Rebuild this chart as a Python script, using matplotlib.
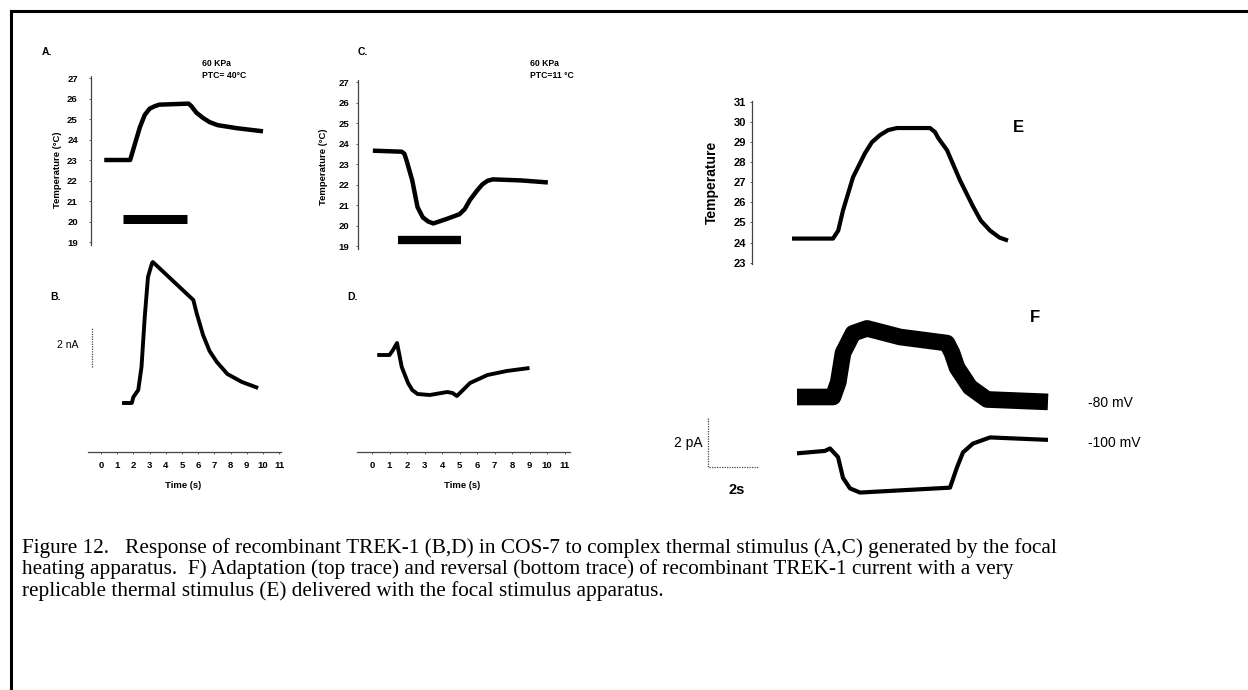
import matplotlib
matplotlib.use("Agg")
import matplotlib.pyplot as plt

W, H = 1248, 690
fig = plt.figure(figsize=(W / 100, H / 100), dpi=100)
fig.patch.set_facecolor("white")

SANS = ["Liberation Sans", "DejaVu Sans"]
SERIF = ["Liberation Serif", "DejaVu Serif"]

# ---------------- data ----------------
a_time = [0.2, 1.8, 2.1, 2.4, 2.7, 3.0, 3.3, 3.6, 5.4, 5.55, 5.9, 6.3, 6.7, 7.2, 8.4, 10.0]
a_temp = [23.0, 23.0, 23.8, 24.6, 25.2, 25.5, 25.62, 25.7, 25.75, 25.65, 25.3, 25.05, 24.85, 24.7, 24.55, 24.4]
a_stim = [1.35, 5.3]
a_stim_level = 20.1

b_time = [1.3, 1.9, 2.0, 2.3, 2.5, 2.7, 2.9, 3.15, 3.2, 5.7, 5.9, 6.3, 6.7, 7.15, 7.8, 8.7, 9.7]
b_curr = [0.0, 0.0, 0.3, 0.65, 1.8, 4.3, 6.3, 7.0, 7.05, 5.15, 4.5, 3.4, 2.6, 2.05, 1.45, 1.05, 0.75]

c_time = [0.05, 1.7, 1.85, 2.0, 2.3, 2.6, 2.9, 3.2, 3.5, 4.2, 5.0, 5.3, 5.6, 6.0, 6.3, 6.6, 6.9, 8.5, 10.05]
c_temp = [23.65, 23.6, 23.5, 23.1, 22.2, 20.9, 20.4, 20.2, 20.1, 20.3, 20.55, 20.8, 21.25, 21.7, 22.0, 22.18, 22.25, 22.2, 22.1]
c_stim = [1.5, 5.1]
c_stim_level = 19.3

d_time = [0.3, 1.0, 1.2, 1.43, 1.7, 2.06, 2.3, 2.6, 3.3, 4.3, 4.6, 4.85, 5.2, 5.6, 6.6, 7.7, 9.0]
d_curr = [0.0, 0.0, 0.25, 0.6, -0.6, -1.4, -1.75, -1.95, -2.0, -1.85, -1.9, -2.05, -1.75, -1.4, -1.0, -0.8, -0.65]

e_time = [0, 1.64, 1.85, 2.04, 2.44, 2.92, 3.2, 3.52, 3.85, 4.2, 5.52, 5.72, 5.85, 6.2, 6.72, 7.24, 7.55, 7.92, 8.3, 8.64]
e_temp = [24.2, 24.2, 24.6, 25.6, 27.25, 28.45, 29.0, 29.35, 29.6, 29.7, 29.7, 29.5, 29.2, 28.6, 27.1, 25.8, 25.1, 24.6, 24.25, 24.1]

f80_time = [0.2, 1.64, 1.85, 2.04, 2.44, 3.0, 4.32, 6.2, 6.4, 6.6, 7.12, 7.8, 10.24]
f80_curr = [0.0, 0.0, 0.6, 1.8, 2.6, 2.8, 2.45, 2.2, 1.8, 1.2, 0.4, -0.1, -0.2]
f100_time = [0.2, 1.32, 1.52, 1.84, 2.04, 2.32, 2.72, 6.32, 6.6, 6.84, 7.24, 7.92, 10.24]
f100_curr = [0.0, 0.1, 0.2, -0.15, -1.0, -1.43, -1.6, -1.4, -0.57, 0.04, 0.4, 0.65, 0.55]

temp_ticks_ac = list(range(19, 28))
temp_ticks_e = list(range(23, 32))
time_ticks = list(range(0, 12))

caption = [
    "Figure 12.   Response of recombinant TREK-1 (B,D) in COS-7 to complex thermal stimulus (A,C) generated by the focal",
    "heating apparatus.  F) Adaptation (top trace) and reversal (bottom trace) of recombinant TREK-1 current with a very",
    "replicable thermal stimulus (E) delivered with the focal stimulus apparatus.",
]


# ---------------- helpers ----------------
def place(xlim, ylim, xmap, ymap):
    """xmap: px = a + b*x ; ymap: py(from top) = c - d*y"""
    a, b = xmap
    c, d = ymap
    left = a + b * xlim[0]
    right = a + b * xlim[1]
    top = c - d * ylim[1]
    bottom = c - d * ylim[0]
    ax = fig.add_axes([left / W, 1 - bottom / H, (right - left) / W, (bottom - top) / H])
    ax.set_xlim(*xlim)
    ax.set_ylim(*ylim)
    ax.patch.set_alpha(0)
    for s in ax.spines.values():
        s.set_visible(False)
    ax.set_xticks([])
    ax.set_yticks([])
    return ax


def ftext(x, y, s, **kw):
    kw.setdefault("family", SANS)
    kw.setdefault("color", "black")
    fig.text(x / W, 1 - y / H, s, **kw)


def dotted_spine(ax, side):
    sp = ax.spines[side]
    sp.set_visible(True)
    sp.set_linestyle((0, (1, 1)))
    sp.set_linewidth(0.9)
    sp.set_color("#444444")


def bold_ticklabels(labels, size):
    for lab in labels:
        lab.set_fontsize(size)
        lab.set_fontweight("bold")
        lab.set_family(SANS)


# ---------------- frame ----------------
fig.add_artist(plt.Line2D([11 / W, 11 / W], [0, 1 - 11 / H], color="black", lw=2.2))
fig.add_artist(plt.Line2D([11 / W, 1], [1 - 11 / H, 1 - 11 / H], color="black", lw=2.2))

# ---------------- panel A ----------------
xmapAB = (101, 16.2)
axA = place((-0.62, 11.1), (18.85, 27.15), xmapAB, (631.5, 20.5))
axA.plot(a_time, a_temp, color="black", lw=3.2, solid_capstyle="butt", solid_joinstyle="round")
axA.plot(a_stim, [a_stim_level] * 2, color="black", lw=6.5, solid_capstyle="butt")
dotted_spine(axA, "left")
axA.set_yticks(temp_ticks_ac)
axA.tick_params(axis="y", length=1.5, width=0.6, pad=8, colors="#444444", labelcolor="black")
bold_ticklabels(axA.get_yticklabels(), 6.8)
ftext(58, 170, "Temperature (°C)", rotation=90, fontsize=6.8, fontweight="bold", ha="center", va="center")
ftext(42, 52, "A.", fontsize=7.5, fontweight="bold", ha="left", va="center")
ftext(202, 64, "60 KPa", fontsize=6.2, fontweight="bold", ha="left", va="center")
ftext(202, 75, "PTC= 40°C", fontsize=6.2, fontweight="bold", ha="left", va="center")

# ---------------- panel B ----------------
axB = place((-0.8, 11.1), (-2.45, 7.6), xmapAB, (403, 20))
axB.plot(b_time, b_curr, color="black", lw=2.8, solid_capstyle="butt", solid_joinstyle="round")
axB.plot([-0.56, -0.56], [1.8, 3.8], color="#444444", lw=0.9, ls=(0, (1, 1)), clip_on=False)
dotted_spine(axB, "bottom")
axB.set_xticks(time_ticks)
axB.tick_params(axis="x", length=1.5, width=0.6, pad=5, colors="#444444", labelcolor="black")
bold_ticklabels(axB.get_xticklabels(), 6.8)
ftext(183, 486, "Time (s)", fontsize=6.8, fontweight="bold", ha="center", va="center")
ftext(50, 297, "B.", fontsize=7.5, fontweight="bold", ha="left", va="center")
ftext(68, 345, "2 nA", fontsize=7.5, ha="center", va="center")

# ---------------- panel C ----------------
xmapCD = (372, 17.5)
axC = place((-0.8, 11.2), (18.85, 27.15), xmapCD, (635.5, 20.5))
axC.plot(c_time, c_temp, color="black", lw=3.2, solid_capstyle="butt", solid_joinstyle="round")
axC.plot(c_stim, [c_stim_level] * 2, color="black", lw=6.0, solid_capstyle="butt")
dotted_spine(axC, "left")
axC.set_yticks(temp_ticks_ac)
axC.tick_params(axis="y", length=1.5, width=0.6, pad=5, colors="#444444", labelcolor="black")
bold_ticklabels(axC.get_yticklabels(), 6.8)
ftext(323, 167, "Temperature (°C)", rotation=90, fontsize=6.8, fontweight="bold", ha="center", va="center")
ftext(358, 52, "C.", fontsize=7.5, fontweight="bold", ha="left", va="center")
ftext(530, 63, "60 KPa", fontsize=6.2, fontweight="bold", ha="left", va="center")
ftext(530, 75, "PTC=11 °C", fontsize=6.2, fontweight="bold", ha="left", va="center")

# ---------------- panel D ----------------
axD = place((-0.85, 11.3), (-4.85, 5.0), xmapCD, (355, 20))
axD.plot(d_time, d_curr, color="black", lw=2.8, solid_capstyle="butt", solid_joinstyle="round")
dotted_spine(axD, "bottom")
axD.set_xticks(time_ticks)
axD.tick_params(axis="x", length=1.5, width=0.6, pad=5, colors="#444444", labelcolor="black")
bold_ticklabels(axD.get_xticklabels(), 6.8)
ftext(462, 486, "Time (s)", fontsize=6.8, fontweight="bold", ha="center", va="center")
ftext(347, 297, "D.", fontsize=7.5, fontweight="bold", ha="left", va="center")

# ---------------- panel E ----------------
xmapEF = (792, 25)
axE = place((-1.6, 9.5), (22.95, 31.05), xmapEF, (725, 20.1))
axE.plot(e_time, e_temp, color="black", lw=3.0, solid_capstyle="butt", solid_joinstyle="round")
dotted_spine(axE, "left")
axE.set_yticks(temp_ticks_e)
axE.tick_params(axis="y", length=1.5, width=0.6, pad=3, colors="#444444", labelcolor="black")
bold_ticklabels(axE.get_yticklabels(), 8)
ftext(712, 182, "Temperature", rotation=90, fontsize=10, fontweight="bold", ha="center", va="center")
ftext(1018, 128, "E", fontsize=12, fontweight="bold", ha="center", va="center")

# ---------------- panel F ----------------
axF = place((-4.5, 12.5), (-4.5, 4.0), xmapEF, (397, 24.5))
axF.plot(f80_time, f80_curr, color="black", lw=12, solid_capstyle="butt", solid_joinstyle="round")
axF.plot(f100_time, [v - 2.3 for v in f100_curr], color="black", lw=3.0,
         solid_capstyle="butt", solid_joinstyle="round")
axF.plot([-3.36, -3.36, -1.36], [-0.86, -2.86, -2.86], color="#444444", lw=0.9,
         ls=(0, (1, 1)), clip_on=False)
ftext(1035, 317, "F", fontsize=12, fontweight="bold", ha="center", va="center")
ftext(1088, 403, "-80 mV", fontsize=10, ha="left", va="center")
ftext(1088, 443, "-100 mV", fontsize=10, ha="left", va="center")
ftext(703, 443, "2 pA", fontsize=10, ha="right", va="center")
ftext(737, 490, "2s", fontsize=10.5, fontweight="bold", ha="center", va="center")

# ---------------- caption ----------------
for i, line in enumerate(caption):
    ftext(22, 548 + 21.3 * i, line, family=SERIF, fontsize=15.3, ha="left", va="center")

fig.savefig("out.png", dpi=100, facecolor="white")
